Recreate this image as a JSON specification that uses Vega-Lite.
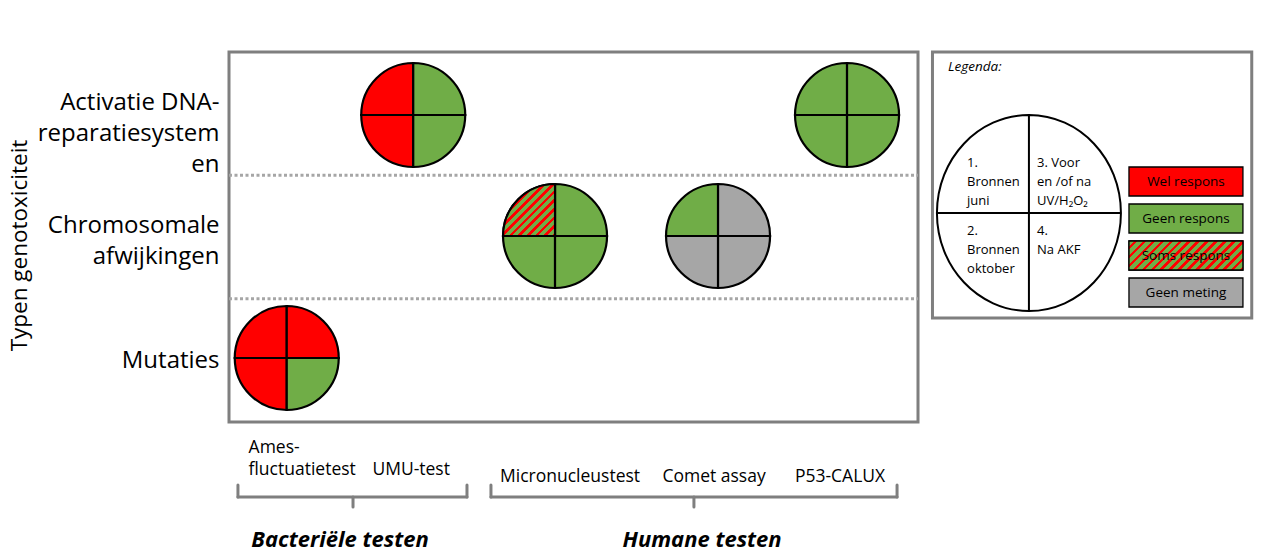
{
  "$schema": "https://vega.github.io/schema/vega-lite/v6.json",
  "width": 689,
  "height": 370,
  "autosize": {"type": "none"},
  "padding": {"left": 229, "top": 52, "right": 349, "bottom": 138},
  "background": "white",
  "config": {
    "font": "Open Sans",
    "view": {"stroke": "#7f7f7f", "strokeWidth": 3}
  },
  "datasets": {
    "tests": [
      {"test": "Ames-fluctuatietest", "group": "Bacteriële testen", "label": "Ames-\nfluctuatietest", "col": 0.419, "labelcol": 0.142},
      {"test": "UMU-test", "group": "Bacteriële testen", "label": "UMU-test", "col": 1.337, "labelcol": 1.322},
      {"test": "Micronucleustest", "group": "Humane testen", "label": "Micronucleustest", "col": 2.366, "labelcol": 2.475},
      {"test": "Comet assay", "group": "Humane testen", "label": "Comet assay", "col": 3.549, "labelcol": 3.52},
      {"test": "P53-CALUX", "group": "Humane testen", "label": "P53-CALUX", "col": 4.485, "labelcol": 4.434}
    ],
    "genotox": [
      {"type": "Activatie DNA-reparatiesystemen", "row": 2.489},
      {"type": "Chromosomale afwijkingen", "row": 1.508},
      {"type": "Mutaties", "row": 0.519}
    ],
    "results": [
      {"test": "Ames-fluctuatietest", "type": "Mutaties", "quadrant": 1, "response": "Wel respons"},
      {"test": "Ames-fluctuatietest", "type": "Mutaties", "quadrant": 2, "response": "Wel respons"},
      {"test": "Ames-fluctuatietest", "type": "Mutaties", "quadrant": 3, "response": "Wel respons"},
      {"test": "Ames-fluctuatietest", "type": "Mutaties", "quadrant": 4, "response": "Geen respons"},
      {"test": "UMU-test", "type": "Activatie DNA-reparatiesystemen", "quadrant": 1, "response": "Wel respons"},
      {"test": "UMU-test", "type": "Activatie DNA-reparatiesystemen", "quadrant": 2, "response": "Wel respons"},
      {"test": "UMU-test", "type": "Activatie DNA-reparatiesystemen", "quadrant": 3, "response": "Geen respons"},
      {"test": "UMU-test", "type": "Activatie DNA-reparatiesystemen", "quadrant": 4, "response": "Geen respons"},
      {"test": "Micronucleustest", "type": "Chromosomale afwijkingen", "quadrant": 1, "response": "Soms respons"},
      {"test": "Micronucleustest", "type": "Chromosomale afwijkingen", "quadrant": 2, "response": "Geen respons"},
      {"test": "Micronucleustest", "type": "Chromosomale afwijkingen", "quadrant": 3, "response": "Geen respons"},
      {"test": "Micronucleustest", "type": "Chromosomale afwijkingen", "quadrant": 4, "response": "Geen respons"},
      {"test": "Comet assay", "type": "Chromosomale afwijkingen", "quadrant": 1, "response": "Geen respons"},
      {"test": "Comet assay", "type": "Chromosomale afwijkingen", "quadrant": 2, "response": "Geen meting"},
      {"test": "Comet assay", "type": "Chromosomale afwijkingen", "quadrant": 3, "response": "Geen meting"},
      {"test": "Comet assay", "type": "Chromosomale afwijkingen", "quadrant": 4, "response": "Geen meting"},
      {"test": "P53-CALUX", "type": "Activatie DNA-reparatiesystemen", "quadrant": 1, "response": "Geen respons"},
      {"test": "P53-CALUX", "type": "Activatie DNA-reparatiesystemen", "quadrant": 2, "response": "Geen respons"},
      {"test": "P53-CALUX", "type": "Activatie DNA-reparatiesystemen", "quadrant": 3, "response": "Geen respons"},
      {"test": "P53-CALUX", "type": "Activatie DNA-reparatiesystemen", "quadrant": 4, "response": "Geen respons"}
    ],
    "groups": [
      {"group": "Bacteriële testen", "from": 0.065, "to": 1.727, "mid": 0.9, "labelx": 0.806},
      {"group": "Humane testen", "from": 1.901, "to": 4.848, "mid": 3.374, "labelx": 3.433}
    ],
    "responses": [
      {"response": "Wel respons"},
      {"response": "Geen respons"},
      {"response": "Soms respons"},
      {"response": "Geen meting"}
    ],
    "quadrants": [
      {"quadrant": 1, "text": "1.\nBronnen\njuni"},
      {"quadrant": 2, "text": "2.\nBronnen\noktober"},
      {"quadrant": 3, "text": "3. Voor\n\u00a0en /of na\nUV/H₂O₂"},
      {"quadrant": 4, "text": "4.\nNa AKF"}
    ]
  },
  "encoding": {
    "x": {"field": "x", "type": "quantitative", "scale": {"domain": [0, 5], "nice": false, "zero": false}, "axis": null},
    "y": {
      "field": "y", "type": "quantitative",
      "scale": {"domain": [0, 3], "nice": false, "zero": false},
      "axis": {
        "title": "Typen genotoxiciteit",
        "values": [2.5865, 1.5892, 0.5027],
        "labelExpr": "datum.value > 2 ? ['Activatie DNA-', 'reparatiesystem', 'en'] : datum.value > 1 ? ['Chromosomale', 'afwijkingen'] : 'Mutaties'",
        "labelFontSize": 24,
        "labelLineHeight": 31,
        "labelLimit": 0,
        "labelColor": "black",
        "labelPadding": 10,
        "labelBaseline": "middle",
        "labelOverlap": false,
        "labelFlush": false,
        "labelBound": false,
        "ticks": false,
        "domain": false,
        "grid": false,
        "titleFontSize": 22.5,
        "titleFontWeight": "normal",
        "titleColor": "black",
        "titlePadding": 6,
        "titleY": 193
      }
    }
  },
  "layer": [
    {
      "data": {"values": [{"boundary": 2}, {"boundary": 1}]},
      "transform": [
        {"calculate": "datum.boundary", "as": "y"},
        {"calculate": "0", "as": "x"},
        {"calculate": "5", "as": "x2"}
      ],
      "mark": {"type": "rule", "stroke": "#a6a6a6", "strokeWidth": 3, "strokeDash": [3, 2.5]},
      "encoding": {"x2": {"field": "x2"}}
    },
    {
      "data": {"name": "results"},
      "transform": [
        {"lookup": "test", "from": {"data": {"name": "tests"}, "key": "test", "fields": ["col"]}},
        {"lookup": "type", "from": {"data": {"name": "genotox"}, "key": "type", "fields": ["row"]}},
        {"calculate": "datum.col", "as": "x"},
        {"calculate": "datum.row", "as": "y"},
        {"calculate": "[3*PI/2, PI, 0, PI/2][datum.quadrant - 1]", "as": "t0"},
        {"calculate": "datum.t0 + PI/2", "as": "t1"}
      ],
      "mark": {"type": "arc", "radius": 52, "stroke": "black", "strokeWidth": 2.2},
      "encoding": {
        "theta": {"field": "t0", "type": "quantitative", "scale": null, "stack": null},
        "theta2": {"field": "t1"},
        "color": {
          "field": "response", "type": "nominal",
          "scale": {"domain": ["Wel respons", "Geen respons", "Soms respons", "Geen meting"], "range": ["#ff0000", "#70ad47", "#70ad47", "#a6a6a6"]},
          "legend": null
        }
      }
    },
    {
      "data": {"name": "results"},
      "transform": [
        {"filter": "datum.response === 'Soms respons'"},
        {"lookup": "test", "from": {"data": {"name": "tests"}, "key": "test", "fields": ["col"]}},
        {"lookup": "type", "from": {"data": {"name": "genotox"}, "key": "type", "fields": ["row"]}},
        {"calculate": "datum.col", "as": "x"},
        {"calculate": "datum.row", "as": "y"},
        {"calculate": "[3*PI/2, PI, 0, PI/2][datum.quadrant - 1]", "as": "t0"},
        {"calculate": "datum.t0 + PI/2", "as": "t1"}
      ],
      "mark": {
        "type": "arc", "radius": 52, "stroke": "black", "strokeWidth": 2.2, "filled": true,
        "fill": {
          "gradient": "linear", "x1": 0, "y1": 0, "x2": 1, "y2": 1,
          "stops": [
            {"offset": 0, "color": "#70ad47"}, {"offset": 0.05, "color": "#70ad47"}, {"offset": 0.05, "color": "#ff0000"}, {"offset": 0.08333, "color": "#ff0000"},
            {"offset": 0.08333, "color": "#70ad47"}, {"offset": 0.13333, "color": "#70ad47"}, {"offset": 0.13333, "color": "#ff0000"}, {"offset": 0.16667, "color": "#ff0000"},
            {"offset": 0.16667, "color": "#70ad47"}, {"offset": 0.21667, "color": "#70ad47"}, {"offset": 0.21667, "color": "#ff0000"}, {"offset": 0.25, "color": "#ff0000"},
            {"offset": 0.25, "color": "#70ad47"}, {"offset": 0.3, "color": "#70ad47"}, {"offset": 0.3, "color": "#ff0000"}, {"offset": 0.33333, "color": "#ff0000"},
            {"offset": 0.33333, "color": "#70ad47"}, {"offset": 0.38333, "color": "#70ad47"}, {"offset": 0.38333, "color": "#ff0000"}, {"offset": 0.41667, "color": "#ff0000"},
            {"offset": 0.41667, "color": "#70ad47"}, {"offset": 0.46667, "color": "#70ad47"}, {"offset": 0.46667, "color": "#ff0000"}, {"offset": 0.5, "color": "#ff0000"},
            {"offset": 0.5, "color": "#70ad47"}, {"offset": 0.55, "color": "#70ad47"}, {"offset": 0.55, "color": "#ff0000"}, {"offset": 0.58333, "color": "#ff0000"},
            {"offset": 0.58333, "color": "#70ad47"}, {"offset": 0.63333, "color": "#70ad47"}, {"offset": 0.63333, "color": "#ff0000"}, {"offset": 0.66667, "color": "#ff0000"},
            {"offset": 0.66667, "color": "#70ad47"}, {"offset": 0.71667, "color": "#70ad47"}, {"offset": 0.71667, "color": "#ff0000"}, {"offset": 0.75, "color": "#ff0000"},
            {"offset": 0.75, "color": "#70ad47"}, {"offset": 0.8, "color": "#70ad47"}, {"offset": 0.8, "color": "#ff0000"}, {"offset": 0.83333, "color": "#ff0000"},
            {"offset": 0.83333, "color": "#70ad47"}, {"offset": 0.88333, "color": "#70ad47"}, {"offset": 0.88333, "color": "#ff0000"}, {"offset": 0.91667, "color": "#ff0000"},
            {"offset": 0.91667, "color": "#70ad47"}, {"offset": 0.96667, "color": "#70ad47"}, {"offset": 0.96667, "color": "#ff0000"}, {"offset": 1, "color": "#ff0000"}
          ]
        }
      },
      "encoding": {
        "theta": {"field": "t0", "type": "quantitative", "scale": null, "stack": null},
        "theta2": {"field": "t1"}
      }
    },
    {
      "data": {"name": "groups"},
      "transform": [
        {"calculate": "datum.from", "as": "x"},
        {"calculate": "datum.to", "as": "x2"},
        {"calculate": "-0.6081", "as": "y"}
      ],
      "mark": {"type": "rule", "stroke": "#7f7f7f", "strokeWidth": 3, "strokeCap": "round"},
      "encoding": {"x2": {"field": "x2"}}
    },
    {
      "data": {"name": "groups"},
      "transform": [
        {"fold": ["from", "to"], "as": ["end", "pos"]},
        {"calculate": "datum.pos", "as": "x"},
        {"calculate": "-0.5108", "as": "y"},
        {"calculate": "-0.6081", "as": "y2"}
      ],
      "mark": {"type": "rule", "stroke": "#7f7f7f", "strokeWidth": 3, "strokeCap": "round"},
      "encoding": {"y2": {"field": "y2"}}
    },
    {
      "data": {"name": "groups"},
      "transform": [
        {"calculate": "datum.mid", "as": "x"},
        {"calculate": "-0.6081", "as": "y"},
        {"calculate": "-0.6892", "as": "y2"}
      ],
      "mark": {"type": "rule", "stroke": "#7f7f7f", "strokeWidth": 3, "strokeCap": "round"},
      "encoding": {"y2": {"field": "y2"}}
    },
    {
      "data": {"name": "groups"},
      "transform": [
        {"calculate": "datum.labelx", "as": "x"},
        {"calculate": "-1.0135", "as": "y"}
      ],
      "mark": {"type": "text", "fontSize": 22, "fontWeight": "bold", "fontStyle": "italic", "color": "black", "align": "center", "baseline": "alphabetic"},
      "encoding": {"text": {"field": "group"}}
    },
    {
      "data": {"name": "tests"},
      "transform": [
        {"filter": "datum.test === 'Ames-fluctuatietest'"},
        {"calculate": "datum.labelcol", "as": "x"},
        {"calculate": "-0.2814", "as": "y"}
      ],
      "mark": {"type": "text", "fontSize": 17.5, "lineHeight": 22, "lineBreak": "\n", "color": "black", "align": "left", "baseline": "bottom"},
      "encoding": {"text": {"field": "label"}}
    },
    {
      "data": {"name": "tests"},
      "transform": [
        {"filter": "datum.test !== 'Ames-fluctuatietest'"},
        {"calculate": "datum.labelcol", "as": "x"},
        {"calculate": "datum.group === 'Bacteriële testen' ? -0.46 : -0.5166", "as": "y"}
      ],
      "mark": {"type": "text", "fontSize": 17.5, "lineHeight": 22, "color": "black", "align": "center", "baseline": "bottom"},
      "encoding": {"text": {"field": "label"}}
    },
    {
      "data": {"values": [{"item": "Legenda:"}]},
      "transform": [
        {"calculate": "5.105", "as": "x"},
        {"calculate": "7.422", "as": "x2"},
        {"calculate": "3.0", "as": "y"},
        {"calculate": "0.843", "as": "y2"}
      ],
      "mark": {"type": "rect", "fill": "white", "stroke": "#7f7f7f", "strokeWidth": 3},
      "encoding": {"x2": {"field": "x2"}, "y2": {"field": "y2"}}
    },
    {
      "data": {"values": [{"item": "Legenda:"}]},
      "transform": [
        {"calculate": "5.218", "as": "x"},
        {"calculate": "2.848", "as": "y"}
      ],
      "mark": {"type": "text", "fontSize": 13.5, "fontStyle": "italic", "color": "black", "align": "left", "baseline": "alphabetic"},
      "encoding": {"text": {"field": "item"}}
    },
    {
      "data": {"values": [{"item": "ellipse"}]},
      "transform": [
        {"calculate": "5.805", "as": "x"},
        {"calculate": "1.6946", "as": "y"}
      ],
      "mark": {
        "type": "point", "filled": false, "stroke": "black", "strokeWidth": 2, "opacity": 1, "size": 38416,
        "shape": "M 0.9388 0 C 0.9388 0.5523 0.5185 1 0 1 C -0.5185 1 -0.9388 0.5523 -0.9388 0 C -0.9388 -0.5523 -0.5185 -1 0 -1 C 0.5185 -1 0.9388 -0.5523 0.9388 0 Z M 0 -1 L 0 1 M -0.9388 0 L 0.9388 0"
      }
    },
    {
      "data": {"name": "quadrants"},
      "transform": [
        {"calculate": "datum.quadrant <= 2 ? 5.356 : 5.864", "as": "x"},
        {"calculate": "datum.quadrant % 2 == 1 ? 2.0676 : 1.5162", "as": "y"}
      ],
      "mark": {"type": "text", "fontSize": 13, "lineHeight": 19, "lineBreak": "\n", "color": "black", "align": "left", "baseline": "alphabetic"},
      "encoding": {"text": {"field": "text"}}
    },
    {
      "data": {"name": "responses"},
      "transform": [
        {"window": [{"op": "row_number", "as": "i"}]},
        {"calculate": "6.531", "as": "x"},
        {"calculate": "7.358", "as": "x2"},
        {"calculate": "2.0676 - 0.3 * (datum.i - 1)", "as": "y"},
        {"calculate": "datum.y - 0.2351", "as": "y2"}
      ],
      "mark": {"type": "rect", "stroke": "black", "strokeWidth": 1.3},
      "encoding": {
        "x2": {"field": "x2"},
        "y2": {"field": "y2"},
        "color": {
          "field": "response", "type": "nominal",
          "scale": {"domain": ["Wel respons", "Geen respons", "Soms respons", "Geen meting"], "range": ["#ff0000", "#70ad47", "#70ad47", "#a6a6a6"]},
          "legend": null
        }
      }
    },
    {
      "data": {"name": "responses"},
      "transform": [
        {"window": [{"op": "row_number", "as": "i"}]},
        {"filter": "datum.response === 'Soms respons'"},
        {"calculate": "6.531", "as": "x"},
        {"calculate": "7.358", "as": "x2"},
        {"calculate": "2.0676 - 0.3 * (datum.i - 1)", "as": "y"},
        {"calculate": "datum.y - 0.2351", "as": "y2"}
      ],
      "mark": {
        "type": "rect", "stroke": "black", "strokeWidth": 1.3,
        "fill": {
          "gradient": "linear", "x1": 0, "y1": 0, "x2": 1.1782, "y2": 0.2997,
          "stops": [
            {"offset": 0, "color": "#70ad47"}, {"offset": 0.0375, "color": "#70ad47"}, {"offset": 0.0375, "color": "#ff0000"}, {"offset": 0.0625, "color": "#ff0000"},
            {"offset": 0.0625, "color": "#70ad47"}, {"offset": 0.1, "color": "#70ad47"}, {"offset": 0.1, "color": "#ff0000"}, {"offset": 0.125, "color": "#ff0000"},
            {"offset": 0.125, "color": "#70ad47"}, {"offset": 0.1625, "color": "#70ad47"}, {"offset": 0.1625, "color": "#ff0000"}, {"offset": 0.1875, "color": "#ff0000"},
            {"offset": 0.1875, "color": "#70ad47"}, {"offset": 0.225, "color": "#70ad47"}, {"offset": 0.225, "color": "#ff0000"}, {"offset": 0.25, "color": "#ff0000"},
            {"offset": 0.25, "color": "#70ad47"}, {"offset": 0.2875, "color": "#70ad47"}, {"offset": 0.2875, "color": "#ff0000"}, {"offset": 0.3125, "color": "#ff0000"},
            {"offset": 0.3125, "color": "#70ad47"}, {"offset": 0.35, "color": "#70ad47"}, {"offset": 0.35, "color": "#ff0000"}, {"offset": 0.375, "color": "#ff0000"},
            {"offset": 0.375, "color": "#70ad47"}, {"offset": 0.4125, "color": "#70ad47"}, {"offset": 0.4125, "color": "#ff0000"}, {"offset": 0.4375, "color": "#ff0000"},
            {"offset": 0.4375, "color": "#70ad47"}, {"offset": 0.475, "color": "#70ad47"}, {"offset": 0.475, "color": "#ff0000"}, {"offset": 0.5, "color": "#ff0000"},
            {"offset": 0.5, "color": "#70ad47"}, {"offset": 0.5375, "color": "#70ad47"}, {"offset": 0.5375, "color": "#ff0000"}, {"offset": 0.5625, "color": "#ff0000"},
            {"offset": 0.5625, "color": "#70ad47"}, {"offset": 0.6, "color": "#70ad47"}, {"offset": 0.6, "color": "#ff0000"}, {"offset": 0.625, "color": "#ff0000"},
            {"offset": 0.625, "color": "#70ad47"}, {"offset": 0.6625, "color": "#70ad47"}, {"offset": 0.6625, "color": "#ff0000"}, {"offset": 0.6875, "color": "#ff0000"},
            {"offset": 0.6875, "color": "#70ad47"}, {"offset": 0.725, "color": "#70ad47"}, {"offset": 0.725, "color": "#ff0000"}, {"offset": 0.75, "color": "#ff0000"},
            {"offset": 0.75, "color": "#70ad47"}, {"offset": 0.7875, "color": "#70ad47"}, {"offset": 0.7875, "color": "#ff0000"}, {"offset": 0.8125, "color": "#ff0000"},
            {"offset": 0.8125, "color": "#70ad47"}, {"offset": 0.85, "color": "#70ad47"}, {"offset": 0.85, "color": "#ff0000"}, {"offset": 0.875, "color": "#ff0000"},
            {"offset": 0.875, "color": "#70ad47"}, {"offset": 0.9125, "color": "#70ad47"}, {"offset": 0.9125, "color": "#ff0000"}, {"offset": 0.9375, "color": "#ff0000"},
            {"offset": 0.9375, "color": "#70ad47"}, {"offset": 0.975, "color": "#70ad47"}, {"offset": 0.975, "color": "#ff0000"}, {"offset": 1, "color": "#ff0000"}
          ]
        }
      },
      "encoding": {"x2": {"field": "x2"}, "y2": {"field": "y2"}}
    },
    {
      "data": {"name": "responses"},
      "transform": [
        {"window": [{"op": "row_number", "as": "i"}]},
        {"calculate": "6.9445", "as": "x"},
        {"calculate": "2.0676 - 0.3 * (datum.i - 1) - 0.1176", "as": "y"}
      ],
      "mark": {"type": "text", "fontSize": 13.5, "color": "black", "align": "center", "baseline": "middle"},
      "encoding": {"text": {"field": "response"}}
    }
  ]
}
